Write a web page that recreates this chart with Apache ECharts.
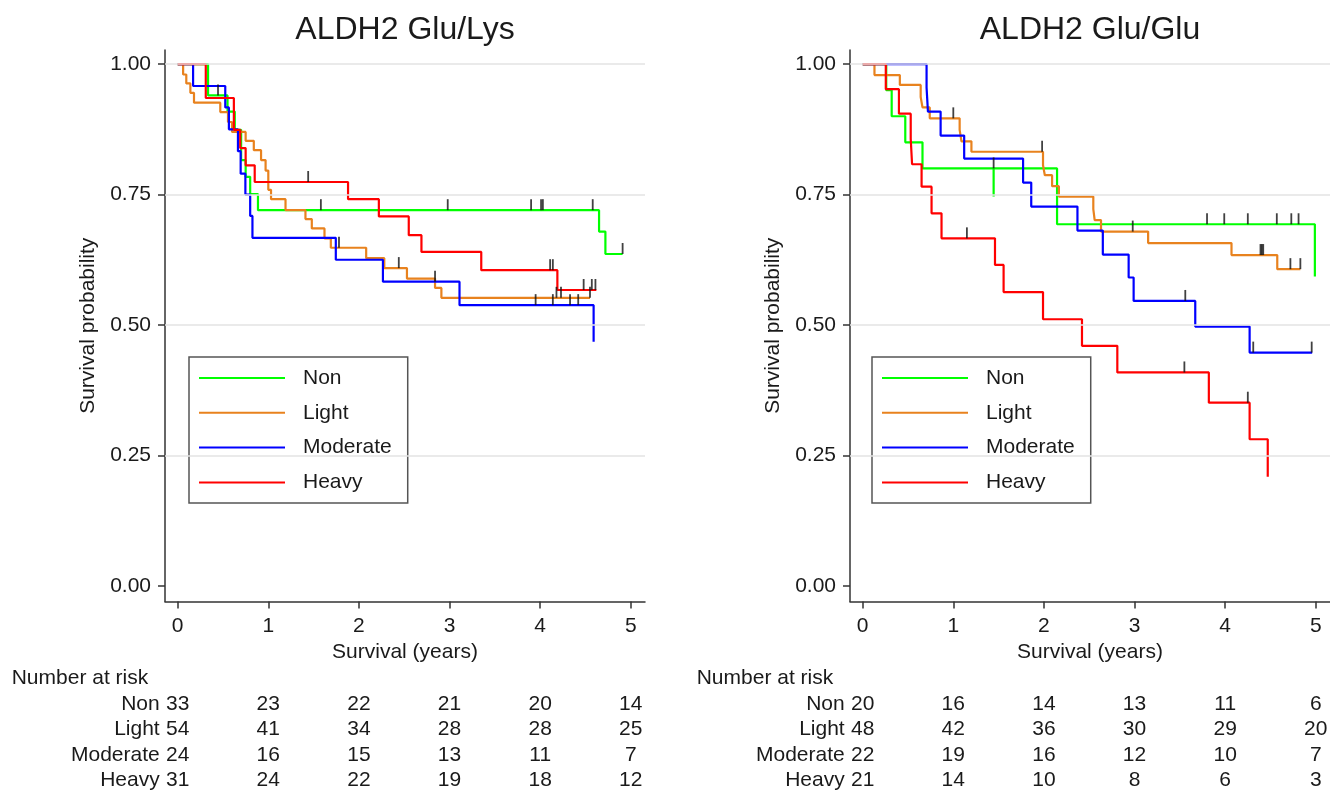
<!DOCTYPE html>
<html>
<head>
<meta charset="utf-8">
<script src="https://cdn.jsdelivr.net/npm/echarts@6/dist/echarts.min.js"></script>
<style>
html, body { margin: 0; padding: 0; background: #fff; }
#chart { width: 1330px; height: 791px; }
</style>
</head>
<body>
<div id="chart"></div>
<script>
const groups = ["Non", "Light", "Moderate", "Heavy"];
const colors = ["#00ff00", "#e8821e", "#0000ff", "#ff0000"];
const panelTitles = ["ALDH2 Glu/Lys", "ALDH2 Glu/Glu"];
const xTicks = [0, 1, 2, 3, 4, 5];
const yTicks = [0, 0.25, 0.5, 0.75, 1];

// ALDH2 Glu/Lys - step times (years) and survival after each step
const lysNonT = [0, 0.335, 0.55, 0.63, 0.70, 0.75, 0.80, 0.886, 4.65, 4.72];
const lysNonS = [1, 0.94, 0.909, 0.874, 0.816, 0.784, 0.751, 0.72, 0.679, 0.636];
const lysNonEnd = 4.91;
const lysNonCens = [0.445, 1.58, 2.98, 3.90, 4.01, 4.03, 4.58, 4.91];

const lysLightT = [0, 0.06, 0.095, 0.14, 0.18, 0.47, 0.555, 0.60, 0.75, 0.84, 0.92, 0.97, 1.0, 1.03, 1.19, 1.41, 1.48, 1.62, 1.69, 2.08, 2.28, 2.53, 2.84, 2.91];
const lysLightS = [1, 0.98, 0.963, 0.945, 0.926, 0.908, 0.889, 0.87, 0.853, 0.835, 0.816, 0.796, 0.759, 0.741, 0.72, 0.703, 0.685, 0.666, 0.648, 0.628, 0.609, 0.589, 0.571, 0.552];
const lysLightEnd = 4.55;
const lysLightCens = [1.78, 2.44, 4.18, 4.23, 4.55];

const lysModT = [0, 0.17, 0.525, 0.565, 0.665, 0.695, 0.747, 0.80, 0.825, 1.745, 2.265, 3.11, 4.59];
const lysModS = [1, 0.958, 0.917, 0.875, 0.833, 0.79, 0.75, 0.709, 0.667, 0.625, 0.583, 0.538, 0.468];
const lysModEnd = 4.59;
const lysModCens = [2.84, 3.95, 4.14, 4.33, 4.42];

const lysHeavyT = [0, 0.31, 0.62, 0.69, 0.75, 0.85, 1.88, 2.22, 2.55, 2.69, 3.35, 4.19];
const lysHeavyS = [1, 0.935, 0.874, 0.839, 0.806, 0.774, 0.741, 0.708, 0.672, 0.64, 0.605, 0.567];
const lysHeavyEnd = 4.62;
const lysHeavyCens = [1.44, 4.11, 4.14, 4.48, 4.57, 4.61];

// ALDH2 Glu/Glu
const gluNonT = [0, 0.26, 0.32, 0.47, 0.66, 2.145, 4.99];
const gluNonS = [1, 0.95, 0.9, 0.85, 0.8, 0.693, 0.593];
const gluNonEnd = 4.99;
const gluNonCens = [1.445, 3.80, 3.99, 4.25, 4.57, 4.73, 4.81];
const gluNonSpikeT = 1.445;
const gluNonSpikeS = [0.8, 0.746];

const gluLightT = [0, 0.13, 0.41, 0.64, 0.66, 0.74, 1.07, 1.09, 1.2, 1.99, 2.01, 2.09, 2.165, 2.545, 2.56, 2.63, 3.15, 4.07, 4.575];
const gluLightS = [1, 0.979, 0.96, 0.937, 0.917, 0.896, 0.874, 0.852, 0.832, 0.806, 0.787, 0.766, 0.746, 0.722, 0.701, 0.679, 0.657, 0.634, 0.607];
const gluLightEnd = 4.83;
const gluLightCens = [1.0, 1.98, 2.98, 4.39, 4.405, 4.42, 4.72, 4.83];

const gluModT = [0, 0.705, 0.72, 0.86, 1.12, 1.77, 1.86, 2.37, 2.65, 2.935, 2.99, 3.67, 4.27];
const gluModS = [1, 0.955, 0.909, 0.863, 0.819, 0.773, 0.727, 0.681, 0.635, 0.591, 0.546, 0.497, 0.447];
const gluModEnd = 4.96;
const gluModCens = [3.56, 4.31, 4.955];

const gluHeavyT = [0, 0.255, 0.4, 0.53, 0.545, 0.65, 0.76, 0.87, 1.46, 1.555, 1.99, 2.42, 2.81, 3.82, 4.27, 4.47];
const gluHeavyS = [1, 0.952, 0.905, 0.857, 0.808, 0.765, 0.714, 0.666, 0.615, 0.563, 0.511, 0.46, 0.409, 0.351, 0.281, 0.209];
const gluHeavyEnd = 4.47;
const gluHeavyCens = [1.15, 3.55, 4.25];

// Number at risk at years 0..5
const lysRiskNon = [33, 23, 22, 21, 20, 14];
const lysRiskLight = [54, 41, 34, 28, 28, 25];
const lysRiskMod = [24, 16, 15, 13, 11, 7];
const lysRiskHeavy = [31, 24, 22, 19, 18, 12];
const gluRiskNon = [20, 16, 14, 13, 11, 6];
const gluRiskLight = [48, 42, 36, 30, 29, 20];
const gluRiskMod = [22, 19, 16, 12, 10, 7];
const gluRiskHeavy = [21, 14, 10, 8, 6, 3];

const FONT = "'Liberation Sans', Arial, sans-serif";
const INK = "#1a1a1a";
const FS = 21;

const panels = [
    {
        curves: [
            [lysNonT, lysNonS, lysNonEnd, lysNonCens],
            [lysLightT, lysLightS, lysLightEnd, lysLightCens],
            [lysModT, lysModS, lysModEnd, lysModCens],
            [lysHeavyT, lysHeavyS, lysHeavyEnd, lysHeavyCens],
        ],
        risk: [lysRiskNon, lysRiskLight, lysRiskMod, lysRiskHeavy],
        left: 165,
        titleX: 405,
        legendLeft: 189,
    },
    {
        curves: [
            [gluNonT, gluNonS, gluNonEnd, gluNonCens],
            [gluLightT, gluLightS, gluLightEnd, gluLightCens],
            [gluModT, gluModS, gluModEnd, gluModCens],
            [gluHeavyT, gluHeavyS, gluHeavyEnd, gluHeavyCens],
        ],
        risk: [gluRiskNon, gluRiskLight, gluRiskMod, gluRiskHeavy],
        left: 850,
        titleX: 1090,
        legendLeft: 872,
    },
];

function survAt(t, T, S) {
    let v = S[0];
    for (let i = 0; i < T.length; i++) {
        if (T[i] <= t) v = S[i];
    }
    return v;
}

const grids = [], xAxes = [], yAxes = [], series = [], titles = [], legends = [];

panels.forEach((p, pi) => {
    grids.push({ left: p.left, top: 50, width: 480, height: 551.5 });
    titles.push({
        text: panelTitles[pi],
        left: p.titleX,
        top: 14,
        padding: 0,
        textAlign: "center",
        textStyle: { fontFamily: FONT, fontSize: 32, fontWeight: "normal", color: INK },
    });
    xAxes.push({
        gridIndex: pi,
        type: "value",
        min: -0.14,
        max: 5.157,
        name: "Survival (years)",
        nameLocation: "middle",
        nameGap: 38,
        nameTextStyle: { fontFamily: FONT, fontSize: FS, color: INK },
        axisLine: { show: true, onZero: false, lineStyle: { color: "#333", width: 1.5 } },
        axisTick: { show: true, length: 7, customValues: xTicks, lineStyle: { color: "#333", width: 1.5 } },
        axisLabel: { customValues: xTicks, margin: 14, fontFamily: FONT, fontSize: FS, color: INK },
        splitLine: { show: false },
    });
    yAxes.push({
        gridIndex: pi,
        type: "value",
        min: -0.03,
        max: 1.027,
        name: "Survival probability",
        nameLocation: "middle",
        nameGap: 66,
        nameTextStyle: { fontFamily: FONT, fontSize: FS, color: INK },
        axisLine: { show: true, onZero: false, lineStyle: { color: "#333", width: 1.5 } },
        axisTick: { show: true, length: 7, customValues: yTicks, lineStyle: { color: "#333", width: 1.5 } },
        axisLabel: {
            customValues: yTicks,
            margin: 14,
            fontFamily: FONT,
            fontSize: FS,
            color: INK,
            formatter: (v) => v.toFixed(2),
        },
        splitLine: { show: false },
    });
    legends.push({
        data: groups,
        orient: "vertical",
        left: p.legendLeft,
        top: 357,
        icon: "rect",
        itemWidth: 86,
        itemHeight: 2,
        itemGap: 13.8,
        padding: [10.5, 16, 10, 10],
        borderColor: "#555",
        borderWidth: 1.5,
        borderRadius: 0,
        backgroundColor: "#fff",
        selectedMode: false,
        textStyle: { fontFamily: FONT, fontSize: FS, color: INK, lineHeight: 21, padding: [0, 0, 0, 13] },
    });

    // horizontal grid lines
    series.push({
        type: "line",
        xAxisIndex: pi,
        yAxisIndex: pi,
        data: [],
        silent: true,
        z: 1,
        markLine: {
            silent: true,
            symbol: "none",
            animation: false,
            label: { show: false },
            lineStyle: { color: "#e3e3e3", width: 1.5, type: "solid" },
            data: yTicks.filter((v) => v > 0).map((v) => ({ yAxis: v })),
        },
    });

    p.curves.forEach((c, gi) => {
        const [T, S, end, cens] = c;
        const pts = T.map((t, i) => [t, S[i]]);
        if (end > T[T.length - 1]) pts.push([end, S[S.length - 1]]);
        series.push({
            name: groups[gi],
            type: "line",
            step: "end",
            xAxisIndex: pi,
            yAxisIndex: pi,
            data: pts,
            showSymbol: false,
            symbol: "none",
            lineStyle: { color: colors[gi], width: 2.2 },
            itemStyle: { color: colors[gi] },
            z: 3,
        });
        series.push({
            name: groups[gi] + " censored",
            type: "scatter",
            xAxisIndex: pi,
            yAxisIndex: pi,
            data: cens.map((t) => [t, survAt(t, T, S)]),
            symbol: "rect",
            symbolSize: [1.8, 11],
            symbolOffset: [0, -5.5],
            itemStyle: { color: "#111" },
            silent: true,
            z: 4,
        });
    });
});

// odd green vertical segment in the Glu/Glu "Non" curve
series.push({
    name: "Non spike",
    type: "line",
    xAxisIndex: 1,
    yAxisIndex: 1,
    data: gluNonSpikeS.map((s) => [gluNonSpikeT, s]),
    showSymbol: false,
    symbol: "none",
    lineStyle: { color: colors[0], width: 2.2 },
    z: 3,
    silent: true,
});

const chart = echarts.init(document.getElementById("chart"));
chart.setOption({
    animation: false,
    backgroundColor: "#fff",
    title: titles,
    legend: legends,
    grid: grids,
    xAxis: xAxes,
    yAxis: yAxes,
    series: series,
});

// number-at-risk table under each panel
const graphics = [];
const rowY = [704, 729.5, 755, 780.5];
panels.forEach((p, pi) => {
    const xs = xTicks.map((v) => chart.convertToPixel({ xAxisIndex: pi }, v));
    graphics.push({
        type: "text",
        left: xs[0] - 166,
        top: 668,
        style: { text: "Number at risk", font: FS + "px " + FONT, fill: INK },
    });
    p.risk.forEach((row, ri) => {
        graphics.push({
            type: "text",
            x: xs[0] - 18,
            y: rowY[ri],
            style: {
                text: groups[ri],
                font: FS + "px " + FONT,
                fill: INK,
                align: "right",
                verticalAlign: "middle",
                textAlign: "right",
                textVerticalAlign: "middle",
            },
        });
        row.forEach((n, ci) => {
            graphics.push({
                type: "text",
                x: xs[ci],
                y: rowY[ri],
                style: {
                    text: String(n),
                    font: FS + "px " + FONT,
                    fill: INK,
                    align: "center",
                    verticalAlign: "middle",
                    textAlign: "center",
                    textVerticalAlign: "middle",
                },
            });
        });
    });
});
chart.setOption({ graphic: graphics });
</script>
</body>
</html>
